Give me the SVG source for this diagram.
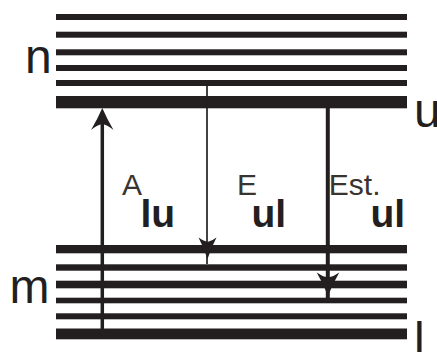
<svg xmlns="http://www.w3.org/2000/svg" width="437" height="352" viewBox="0 0 437 352">
<style>
.lv{fill:#231f20}
.big{font-family:"Liberation Sans",Arial,sans-serif;font-size:48px;fill:#231f20}
.sup{font-family:"Liberation Sans",Arial,sans-serif;font-size:30px;fill:#3a3430}
.sub{font-family:"Liberation Sans",Arial,sans-serif;font-size:39px;font-weight:bold;fill:#231f20}
.sh{stroke:#231f20;fill:none}
.hd{fill:#231f20}
</style>
<rect width="437" height="352" fill="#fff"/>
<g id="upper-levels">
<rect class="lv" x="56" y="14" width="351" height="6"/>
<rect class="lv" x="56" y="31.7" width="351" height="6"/>
<rect class="lv" x="56" y="49.3" width="351" height="6"/>
<rect class="lv" x="56" y="65" width="351" height="6"/>
<rect class="lv" x="56" y="80" width="351" height="6"/>
<rect class="lv" x="56" y="96" width="351" height="12.3"/>
<text class="big" x="25" y="73">n</text>
<text class="big" x="414" y="127">u</text>
</g>
<g id="lower-levels">
<rect class="lv" x="56" y="245" width="351" height="8.3"/>
<rect class="lv" x="56" y="264.3" width="351" height="6.4"/>
<rect class="lv" x="56" y="280.7" width="351" height="7.6"/>
<rect class="lv" x="56" y="297.7" width="351" height="5.6"/>
<rect class="lv" x="56" y="313.3" width="351" height="6"/>
<rect class="lv" x="56" y="328.5" width="351" height="10.8"/>
<text class="big" x="9.5" y="303">m</text>
<text class="big" x="414" y="356">l</text>
</g>
<g id="connectors">
<line class="sh" x1="102.3" y1="122" x2="102.3" y2="330" stroke-width="3.5"/>
<path class="hd" d="M102.3,108 Q98,118 91,130 Q97,125 102.3,124 Q107.6,125 113.5,130 Q106.6,118 102.3,108 Z"/>
<line class="sh" x1="207" y1="86" x2="207" y2="264" stroke-width="1.7"/>
<path class="hd" d="M207.5,259 Q204,248 198.5,237.5 Q203,241 207.5,242 Q212,241 216.5,237.5 Q211,248 207.5,259 Z"/>
<line class="sh" x1="327.8" y1="108" x2="327.8" y2="298" stroke-width="4"/>
<path class="hd" d="M328,296 Q323,283 316.7,272.5 Q322,276.5 328,277.5 Q334,276.5 339.3,272.5 Q333,283 328,296 Z"/>
</g>
<g id="label-A">
<text class="sup" x="122" y="195">A</text>
<text class="sub" x="140.5" y="227.3">lu</text>
</g>
<g id="label-E">
<text class="sup" x="237" y="195">E</text>
<text class="sub" x="251.5" y="227.3">ul</text>
</g>
<g id="label-Est">
<text class="sup" x="328.8" y="195">Est.</text>
<text class="sub" x="370.5" y="227.3">ul</text>
</g>
</svg>
